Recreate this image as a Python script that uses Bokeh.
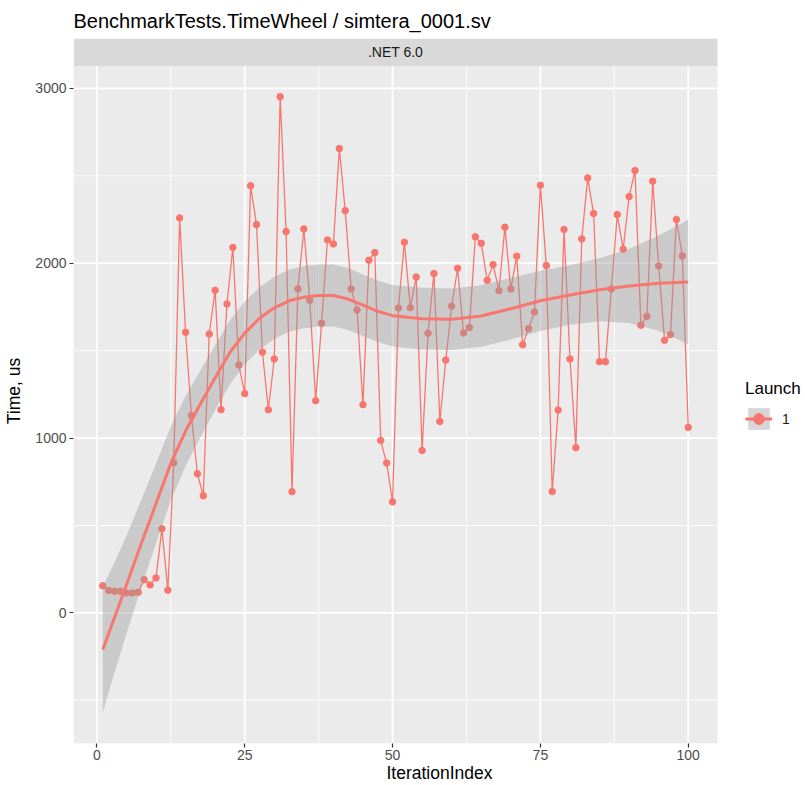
from bokeh.plotting import figure
from bokeh.models import Range1d, FixedTicker, Legend, LegendItem
from bokeh.embed import file_html
from bokeh.resources import INLINE
from bokeh.core.properties import value

# ---------------- data ----------------
TITLE = "BenchmarkTests.TimeWheel / simtera_0001.sv"
STRIP_LABEL = ".NET 6.0"
X_LABEL = "IterationIndex"
Y_LABEL = "Time, us"
LEGEND_TITLE = "Launch"
LAUNCH_LABEL = "1"

x_ticks = [0, 25, 50, 75, 100]
x_minor = [12.5, 37.5, 62.5, 87.5]
y_ticks = [0, 1000, 2000, 3000]
y_minor = [-500, 500, 1500, 2500]

iteration = [1, 2, 3, 4, 5, 6, 7, 8, 9, 10,
             11, 12, 13, 14, 15, 16, 17, 18, 19, 20,
             21, 22, 23, 24, 25, 26, 27, 28, 29, 30,
             31, 32, 33, 34, 35, 36, 37, 38, 39, 40,
             41, 42, 43, 44, 45, 46, 47, 48, 49, 50,
             51, 52, 53, 54, 55, 56, 57, 58, 59, 60,
             61, 62, 63, 64, 65, 66, 67, 68, 69, 70,
             71, 72, 73, 74, 75, 76, 77, 78, 79, 80,
             81, 82, 83, 84, 85, 86, 87, 88, 89, 90,
             91, 92, 93, 94, 95, 96, 97, 98, 99, 100]

time_us = [155, 128, 124, 124, 114, 114, 118, 190, 160, 200,
           481, 130, 859, 2259, 1605, 1128, 796, 670, 1595, 1845,
           1162, 1767, 2090, 1418, 1254, 2443, 2221, 1491, 1162, 1452,
           2952, 2181, 693, 1853, 2196, 1788, 1214, 1656, 2133, 2110,
           2656, 2301, 1853, 1733, 1191, 2017, 2061, 986, 857, 635,
           1744, 2120, 1746, 1921, 929, 1600, 1941, 1095, 1446, 1754,
           1971, 1601, 1633, 2151, 2114, 1902, 1992, 1843, 2206, 1853,
           2040, 1534, 1626, 1721, 2446, 1987, 694, 1160, 2193, 1452,
           945, 2139, 2488, 2284, 1437, 1437, 1853, 2278, 2080, 2381,
           2530, 1645, 1696, 2469, 1984, 1559, 1592, 2250, 2042, 1061]

# smoother (loess) line and its confidence band
smooth_x = [1, 3, 5, 7.5, 10, 12.5, 15, 17.5, 20, 22.5, 25, 27.5, 30, 32.5,
            35, 37.5, 40, 42.5, 45, 47.5, 50, 55, 60, 65, 70, 75, 80, 85,
            90, 95, 100]
smooth_fit = [-210, -25, 160, 395, 625, 855, 1040, 1195, 1345, 1490, 1600,
              1685, 1745, 1785, 1805, 1815, 1815, 1795, 1760, 1725, 1700,
              1683, 1680, 1698, 1740, 1785, 1818, 1848, 1870, 1886, 1893]
smooth_lo = [-570, -340, -120, 145, 397, 643, 840, 1003, 1159, 1308, 1420,
             1507, 1567, 1608, 1628, 1638, 1638, 1618, 1584, 1549, 1524,
             1507, 1504, 1522, 1564, 1613, 1648, 1668, 1658, 1614, 1537]
smooth_hi = [150, 290, 440, 645, 853, 1067, 1240, 1387, 1531, 1672, 1780,
             1863, 1923, 1962, 1982, 1992, 1992, 1972, 1936, 1901, 1876,
             1859, 1856, 1874, 1916, 1957, 1988, 2028, 2082, 2158, 2249]

# ---------------- layout / styling ----------------
FONT = "Liberation Sans"
RED = "#F8766D"
W, H = 805, 785
LEFT, TOP, BOTTOM = 73, 38, 42
FRAME_W = W - LEFT               # frame runs to the right edge (legend lives in it)
FRAME_H = H - TOP - BOTTOM
PANEL_W = 644                    # grey panel width inside the frame
STRIP_PX = 27.5                  # facet strip height inside the frame
X_LO, X_HI = -3.95, 104.95
Y_LO, Y_HI = -747, 3128          # panel (data) range below the strip
x_per_px = (X_HI - X_LO) / PANEL_W
X_END = X_LO + FRAME_W * x_per_px
y_per_px = (Y_HI - Y_LO) / (FRAME_H - STRIP_PX)
Y_TOP = Y_HI + STRIP_PX * y_per_px

p = figure(width=W, height=H,
           x_range=Range1d(X_LO, X_END), y_range=Range1d(Y_LO, Y_TOP),
           output_backend="svg", toolbar_location=None)
p.min_border = 0
p.min_border_left = LEFT
p.min_border_right = 0
p.min_border_top = TOP
p.min_border_bottom = BOTTOM
p.background_fill_color = "white"
p.border_fill_color = "white"
p.outline_line_color = None
p.grid.visible = False

p.title.text = TITLE
p.title.text_font = FONT
p.title.text_font_size = "20px"
p.title.text_font_style = "normal"
p.title.text_color = "black"
p.title.align = "left"
p.title.offset = 0
p.title.standoff = 13

p.xaxis.ticker = FixedTicker(ticks=x_ticks)
p.yaxis.ticker = FixedTicker(ticks=y_ticks)
p.xaxis.bounds = (X_LO, X_HI)
p.yaxis.bounds = (Y_LO, Y_HI)
p.xaxis.axis_label = X_LABEL
p.yaxis.axis_label = Y_LABEL
for ax in (p.xaxis, p.yaxis):
    ax.axis_line_color = None
    ax.major_tick_line_color = "#333333"
    ax.major_tick_line_width = 1.2
    ax.major_tick_out = 4
    ax.major_tick_in = 0
    ax.minor_tick_line_color = None
    ax.major_label_text_font = FONT
    ax.major_label_text_font_size = "14px"
    ax.major_label_text_color = "#4D4D4D"
    ax.axis_label_text_font = FONT
    ax.axis_label_text_font_size = "17.5px"
    ax.axis_label_text_font_style = "normal"
    ax.axis_label_text_color = "black"
p.xaxis.major_label_standoff = 2
p.xaxis.axis_label_standoff = 0
p.yaxis.major_label_standoff = 3
p.yaxis.axis_label_standoff = 8

# grey panel with white ggplot-style grid
p.quad(left=[X_LO], right=[X_HI], bottom=[Y_LO], top=[Y_HI],
       fill_color="#EBEBEB", line_color=None)
p.segment(x0=x_minor, y0=[Y_LO] * len(x_minor), x1=x_minor, y1=[Y_HI] * len(x_minor),
          line_color="white", line_width=0.85)
p.segment(x0=[X_LO] * len(y_minor), y0=y_minor, x1=[X_HI] * len(y_minor), y1=y_minor,
          line_color="white", line_width=0.85)
p.segment(x0=x_ticks, y0=[Y_LO] * len(x_ticks), x1=x_ticks, y1=[Y_HI] * len(x_ticks),
          line_color="white", line_width=1.7)
p.segment(x0=[X_LO] * len(y_ticks), y0=y_ticks, x1=[X_HI] * len(y_ticks), y1=y_ticks,
          line_color="white", line_width=1.7)

line_r = p.line(iteration, time_us, line_color=RED, line_width=1.3)
pts_r = p.scatter(iteration, time_us, size=6.5, fill_color=RED, line_color=RED)
band_r = p.varea(x=smooth_x, y1=smooth_lo, y2=smooth_hi,
                 fill_color="#999999", fill_alpha=0.4)
fit_r = p.line(smooth_x, smooth_fit, line_color=RED, line_width=3)

# facet strip (ggplot facet label) at the top of the panel
p.quad(left=[X_LO], right=[X_HI], bottom=[Y_HI], top=[Y_TOP],
       fill_color="#D9D9D9", line_color=None)
p.text(x=[(X_LO + X_HI) / 2], y=[(Y_HI + Y_TOP) / 2], text=[STRIP_LABEL],
       text_align="center", text_baseline="middle", text_font=value(FONT),
       text_font_size="14px", text_color="#1A1A1A")

# legend to the right of the grey panel (screen offsets inside the frame)
legend = Legend(items=[LegendItem(label=LAUNCH_LABEL,
                                  renderers=[band_r, line_r, fit_r, pts_r])],
                title=LEGEND_TITLE, location=(PANEL_W + 28, 311))
legend.title_text_font = FONT
legend.title_text_font_size = "17px"
legend.title_text_font_style = "normal"
legend.title_text_color = "black"
legend.title_standoff = 6
legend.label_text_font = FONT
legend.label_text_font_size = "14px"
legend.label_text_color = "#1A1A1A"
legend.label_standoff = 10
legend.glyph_width = 27
legend.glyph_height = 27
legend.label_height = 27
legend.padding = 0
legend.spacing = 0
legend.margin = 0
legend.background_fill_alpha = 0
legend.border_line_color = None
p.add_layout(legend)

open("out.html", "w").write(file_html(p, INLINE))
